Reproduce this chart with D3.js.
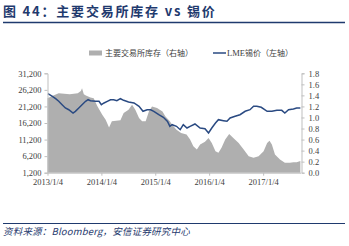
<!DOCTYPE html>
<html><head><meta charset="utf-8">
<script src="https://cdn.jsdelivr.net/npm/d3@7"></script>
<style>
html,body{margin:0;padding:0;background:#fff;}
svg{display:block;}
</style></head>
<body>
<svg id="c" width="349" height="246"></svg>
<script>
const titleText = "图 44：主要交易所库存 vs 锡价";
const sourceText = "资料来源：Bloomberg，安信证券研究中心";
const legendStock = "主要交易所库存（右轴）";
const legendPrice = "LME锡价（左轴）";

const priceDates = ["2013-01-07","2013-02-06","2013-02-28","2013-03-21","2013-04-13","2013-05-05","2013-05-28","2013-06-26","2013-07-12","2013-08-04","2013-08-26","2013-09-19","2013-10-06","2013-10-22","2013-11-25","2013-12-19","2014-01-04","2014-01-22","2014-02-13","2014-03-07","2014-03-28","2014-04-19","2014-05-13","2014-06-04","2014-07-07","2014-08-13","2014-09-16","2014-10-13","2014-11-10","2014-12-04","2014-12-25","2015-01-28","2015-02-28","2015-03-28","2015-04-13","2015-04-28","2015-05-28","2015-06-22","2015-07-13","2015-08-07","2015-08-28","2015-09-30","2015-11-04","2015-12-07","2015-12-31","2016-01-22","2016-02-16","2016-03-07","2016-04-10","2016-05-04","2016-05-25","2016-06-28","2016-07-31","2016-09-04","2016-10-07","2016-10-31","2016-11-22","2016-12-22","2017-01-31","2017-03-04","2017-04-07","2017-05-10","2017-05-31","2017-06-25","2017-07-28","2017-08-19","2017-09-13"];
const priceValues = [25040,24260,23530,22750,21720,20730,20210,19220,19720,20730,21720,22750,23230,22930,22750,22750,21720,22240,22750,23230,23230,22930,23530,23050,22530,22240,21240,19730,20210,20210,19730,18700,17910,16700,15200,15690,15200,14180,15690,14690,15200,15900,14690,14480,13180,14690,16200,17200,16900,16710,17710,18220,18700,19730,20210,21240,21240,20940,19730,19730,20030,20030,19220,20210,20420,20730,20730];

const stockDates = ["2013-01-04","2013-02-04","2013-03-21","2013-06-04","2013-07-28","2013-08-18","2013-08-26","2013-09-07","2013-09-21","2013-10-22","2013-11-13","2013-12-07","2014-01-10","2014-02-02","2014-02-25","2014-03-16","2014-05-13","2014-06-04","2014-07-07","2014-07-31","2014-08-22","2014-09-16","2014-10-07","2014-10-31","2014-11-22","2014-12-13","2015-01-16","2015-02-22","2015-03-13","2015-04-13","2015-04-28","2015-05-28","2015-06-28","2015-08-04","2015-08-28","2015-09-19","2015-10-13","2015-11-04","2015-12-07","2015-12-31","2016-01-22","2016-02-16","2016-03-07","2016-03-28","2016-04-22","2016-05-19","2016-06-16","2016-07-22","2016-08-25","2016-09-28","2016-10-31","2016-12-04","2017-01-07","2017-01-31","2017-02-16","2017-03-04","2017-03-25","2017-04-28","2017-05-31","2017-07-04","2017-07-28","2017-08-19","2017-09-13"];
const stockValues = [1.35,1.39,1.44,1.42,1.44,1.48,1.53,1.42,1.40,1.36,1.35,1.21,1.05,0.96,0.82,0.93,0.95,1.08,1.14,1.23,1.14,0.99,0.93,0.93,1.11,1.20,1.17,1.11,1.02,0.93,0.87,0.78,0.72,0.69,0.60,0.48,0.42,0.51,0.56,0.63,0.54,0.39,0.36,0.45,0.60,0.70,0.63,0.54,0.42,0.30,0.27,0.30,0.39,0.54,0.58,0.51,0.33,0.24,0.18,0.18,0.19,0.19,0.21];

const leftTicks = [1200,6200,11200,16200,21200,26200,31200];
const rightTicks = [0,0.2,0.4,0.6,0.8,1.0,1.2,1.4,1.6,1.8];
const xTickDates = ["2013-01-04","2014-01-04","2015-01-04","2016-01-04","2017-01-04"];

const parse = d3.timeParse("%Y-%m-%d");
const fmtX = d3.timeFormat("%Y/%-m/%-d");
const price = priceDates.map((d,i)=>({date:parse(d), v:priceValues[i]}));
const stock = stockDates.map((d,i)=>({date:parse(d), v:stockValues[i]}));

const svg = d3.select("#c");
const navy = "#1f3a6e";
const cjk = "'Noto Sans CJK SC', sans-serif";
const serif = "'Liberation Serif', 'DejaVu Serif', serif";

// title
svg.append("text").attr("x",3).attr("y",15.5).attr("font-family",cjk).attr("font-weight","bold")
  .attr("font-size",13).attr("letter-spacing",1.8).attr("fill",navy).text(titleText);
svg.append("line").attr("x1",3).attr("x2",345).attr("y1",22.5).attr("y2",22.5)
  .attr("stroke",navy).attr("stroke-width",1.3);

// footer
svg.append("line").attr("x1",3).attr("x2",345).attr("y1",223.5).attr("y2",223.5)
  .attr("stroke",navy).attr("stroke-width",1.2);
svg.append("text").attr("x",3).attr("y",235).attr("font-family",cjk).attr("font-style","italic")
  .attr("font-size",9.5).attr("letter-spacing",0.2).attr("fill",navy).text(sourceText);

const x0 = 47.5, x1 = 300.5, yTop = 73.3, yBot = 172.7;
const start = parse("2013-01-04");
const x = d3.scaleTime()
  .domain([start, d3.timeDay.offset(start, Math.round((x1-x0)/53.9*365.25))])
  .range([x0, x1]);
const yL = d3.scaleLinear().domain([1200,31200]).range([yBot,yTop]);
const yR = d3.scaleLinear().domain([0,1.8]).range([yBot,yTop]);

// area
svg.append("path").datum(stock)
  .attr("d", d3.area().x(d=>x(d.date)).y0(yBot).y1(d=>yR(d.v)))
  .attr("fill","#afafaf");
// line
svg.append("path").datum(price)
  .attr("d", d3.line().x(d=>x(d.date)).y(d=>yL(d.v)))
  .attr("fill","none").attr("stroke","#2a4a82").attr("stroke-width",1.5);

const axisColor = "#bfbfbf";
const lab = "#404040";
function style(g){
  g.select(".domain").attr("stroke",axisColor);
  g.selectAll(".tick line").attr("stroke",axisColor);
  g.selectAll(".tick text").attr("fill",lab).attr("font-family",serif).attr("font-size",8.5);
}
const gl = svg.append("g").attr("transform",`translate(${x0},0)`)
  .call(d3.axisLeft(yL).tickValues(leftTicks).tickSize(3).tickPadding(3).tickFormat(d3.format(",")));
style(gl);
const gr = svg.append("g").attr("transform",`translate(${x1+1},0)`)
  .call(d3.axisRight(yR).tickValues(rightTicks).tickSize(3).tickPadding(4).tickFormat(d3.format(".1f")));
style(gr);
const gb = svg.append("g").attr("transform",`translate(0,${yBot})`)
  .call(d3.axisBottom(x).tickValues(xTickDates.map(parse)).tickSize(3).tickPadding(3).tickFormat(fmtX).tickSizeOuter(0));
style(gb);

// legend
const lg = svg.append("g");
lg.append("rect").attr("x",89).attr("y",50.5).attr("width",13).attr("height",5).attr("fill","#afafaf");
lg.append("text").attr("x",105).attr("y",56).attr("font-family",cjk).attr("font-size",8)
  .attr("fill","#404040").text(legendStock);
lg.append("line").attr("x1",213).attr("x2",226).attr("y1",53).attr("y2",53)
  .attr("stroke","#2a4a82").attr("stroke-width",1.5);
const lt = lg.append("text").attr("x",227).attr("y",56).attr("font-size",8).attr("fill","#404040");
lt.append("tspan").attr("font-family",serif).attr("font-size",8.5).text(legendPrice.slice(0,3));
lt.append("tspan").attr("font-family",cjk).text(legendPrice.slice(3));
</script>
</body></html>
